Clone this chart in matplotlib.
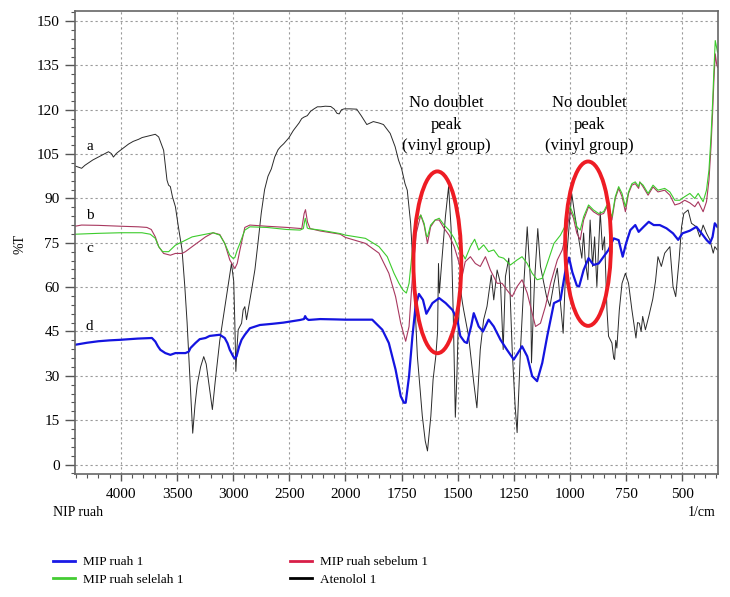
import numpy as np
import matplotlib
matplotlib.use('Agg')
import matplotlib.pyplot as plt
from matplotlib.patches import Ellipse
from matplotlib.lines import Line2D

plt.rcParams['font.family'] = ['Liberation Serif', 'DejaVu Serif']

# Atenolol 1 (curve a)
wn_aten = [4408, 4370, 4349, 4320, 4289, 4250, 4200, 4150, 4110, 4085, 4066, 4040, 4021, 3980,
           3931, 3890, 3842, 3810, 3768, 3730, 3693, 3663, 3640, 3619, 3600, 3589, 3575, 3559,
           3540, 3514, 3490, 3455, 3430, 3410, 3380, 3360, 3340, 3320, 3290, 3262, 3240, 3215,
           3185, 3160, 3119, 3060, 3015, 2995, 2985, 2976, 2965, 2955, 2925, 2911, 2896, 2881,
           2866, 2836, 2806, 2776, 2750, 2720, 2690, 2660, 2630, 2600, 2578, 2550, 2504, 2464,
           2414, 2390, 2370, 2340, 2310, 2280, 2250, 2220, 2180, 2131, 2100, 2076, 2056, 2035,
           2012, 1980, 1950, 1930, 1905, 1876, 1850, 1831, 1801, 1779, 1764, 1750, 1735, 1725,
           1710, 1695, 1680, 1658, 1645, 1635, 1620, 1610, 1598, 1590, 1586, 1582, 1570, 1555,
           1541, 1530, 1520, 1511, 1504, 1499, 1489, 1480, 1474, 1452, 1429, 1415, 1400, 1385,
           1370, 1351, 1340, 1325, 1310, 1298, 1288, 1273, 1258, 1245, 1236, 1221, 1206, 1191,
           1176, 1172, 1159, 1144, 1132, 1117, 1105, 1090, 1072, 1057, 1043, 1031, 1020, 1005,
           993, 978, 963, 948, 940, 933, 921, 911, 900, 891, 881, 866, 856, 847, 836, 829, 814,
           806, 802, 797, 792, 781, 769, 754, 740, 725, 707, 700, 692, 684, 677, 665, 650, 632,
           620, 609, 594, 579, 556, 542, 530, 515, 504, 494, 475, 460, 438, 423, 408, 393, 378,
           363, 356, 345]
t_aten = [101.0, 100.5, 100.2, 101.2, 102.0, 103.0, 104.0, 105.0, 105.8, 105.2, 104.0, 105.2, 105.8, 107.0,
          108.4, 109.3, 110.0, 110.6, 111.0, 111.4, 111.7, 110.8, 108.5, 106.3, 100.0, 96.2, 94.5, 94.0,
          90.5, 87.2, 81.0, 72.6, 60.0, 48.0, 25.4, 10.6, 20.0, 27.0, 33.0, 36.5, 34.0, 27.0,
          18.6, 28.0, 42.0, 56.8, 68.0, 62.0, 47.8, 31.5, 40.0, 45.6, 47.8, 52.3, 53.4, 49.0,
          52.3, 59.0, 66.0, 76.0, 85.0, 93.0, 97.5, 100.0, 104.0, 106.5, 107.5, 108.5, 110.5, 113.0,
          115.5, 117.0, 117.5, 118.0, 119.5, 120.3, 121.0, 121.0, 121.2, 121.1, 120.2, 118.8, 118.6, 120.0,
          120.3, 120.3, 120.2, 118.0, 115.0, 116.0, 115.5, 115.0, 112.0, 107.5, 103.0, 100.0, 95.0, 92.8,
          81.6, 61.3, 36.6, 16.4, 8.0, 4.6, 16.4, 28.8, 36.6, 45.0, 68.0, 58.0, 70.0, 84.0,
          94.0, 80.0, 50.0, 16.0, 30.0, 44.5, 60.0, 55.0, 52.3, 43.4, 27.7, 19.2, 38.9, 49.0,
          53.5, 64.1, 55.7, 65.8, 61.3, 38.9, 63.6, 69.8, 38.9, 20.0, 10.8, 38.9, 61.3, 80.4,
          61.3, 34.4, 61.3, 79.8, 67.0, 61.3, 56.8, 53.5, 61.3, 66.4, 54.6, 44.4, 65.8, 80.0,
          91.7, 83.8, 77.0, 69.8, 78.3, 69.2, 62.5, 82.7, 67.0, 77.0, 60.2, 85.5, 72.6, 77.0, 52.3, 43.4, 41.1,
          36.0, 35.5, 42.0, 39.4, 52.3, 61.3, 64.7, 61.3, 52.3, 42.8, 48.0, 47.8, 45.0, 50.1, 45.6, 50.1, 56.0,
          62.0, 70.3, 67.0, 71.5, 73.7, 60.2, 56.8, 69.2, 80.4, 84.9, 86.1, 81.6, 80.4, 77.0, 81.0, 78.2, 76.0,
          71.5, 73.7, 72.6]

# MIP ruah 1 (curve d)
wn_mip = [4408, 4300, 4200, 4100, 4000, 3850, 3723, 3693, 3670, 3648, 3604, 3559, 3514, 3425, 3395,
          3380, 3336, 3298, 3246, 3209, 3119, 3075, 3050, 3030, 3000, 2985, 2970, 2960, 2946, 2925,
          2896, 2851, 2762, 2650, 2553, 2404, 2370, 2359, 2350, 2329, 2225, 2100, 2000, 1881, 1836,
          1807, 1777, 1754, 1740, 1732, 1717, 1702, 1688, 1673, 1655, 1640, 1613, 1583, 1554, 1524,
          1502, 1489, 1470, 1459, 1440, 1429, 1418, 1407, 1388, 1363, 1340, 1310, 1281, 1251, 1230,
          1214, 1191, 1169, 1147, 1124, 1102, 1072, 1043, 1020, 1005, 990, 970, 960, 940, 918, 896,
          873, 851, 829, 806, 784, 766, 751, 732, 710, 695, 673, 650, 628, 601, 571, 542, 519, 500,
          467, 438, 415, 393, 378, 366, 356, 345]
t_mip = [40.5, 41.2, 41.7, 42.0, 42.2, 42.6, 42.8, 41.6, 40.0, 38.8, 37.7, 37.1, 37.7, 37.7, 38.2,
         39.4, 41.1, 42.4, 42.8, 43.5, 43.9, 42.8, 41.0, 38.8, 36.6, 35.8, 36.6, 38.0, 40.0, 42.2,
         43.9, 46.1, 47.2, 47.6, 48.0, 48.9, 49.2, 50.2, 49.5, 48.9, 49.2, 49.1, 49.0, 49.0, 45.6,
         41.1, 32.1, 23.1, 20.9, 20.9, 29.9, 43.4, 53.5, 57.7, 55.7, 51.0, 54.6, 56.3, 54.6, 52.3,
         49.0, 43.5, 41.5, 41.1, 47.0, 51.2, 49.0, 46.7, 45.0, 49.0, 46.7, 42.2, 38.8, 35.5, 38.0,
         40.0, 36.6, 29.9, 28.2, 34.4, 43.4, 54.6, 55.7, 66.0, 70.0, 65.0, 60.5, 60.2, 65.8, 69.8, 67.5,
         68.0, 70.3, 72.6, 76.5, 75.9, 70.3, 74.8, 79.3, 81.0, 78.7, 80.4, 82.1, 81.0, 81.0, 79.9, 78.2, 76.0, 78.2,
         79.1, 80.4, 78.2, 76.0, 74.8, 77.0, 81.6, 80.4]

# MIP ruah selelah 1 (curve c)
wn_sel = [4408, 4200, 4000, 3812, 3738, 3693, 3663, 3628, 3574, 3514, 3455, 3365, 3246, 3179, 3119,
          3075, 3030, 3000, 2985, 2964, 2940, 2896, 2851, 2702, 2523, 2404, 2375, 2365, 2358, 2350,
          2340, 2329, 2225, 2046, 2000, 1911, 1851, 1814, 1784, 1762, 1744, 1729, 1717, 1702, 1680,
          1665, 1650, 1640, 1635, 1621, 1601, 1583, 1561, 1539, 1516, 1494, 1472, 1467, 1444, 1425,
          1407, 1385, 1363, 1340, 1318, 1296, 1266, 1236, 1214, 1191, 1169, 1147, 1124, 1102, 1072,
          1043, 1020, 1015, 1000, 985, 970, 955, 940, 918, 896, 873, 851, 836, 814, 799, 784, 769,
          754, 740, 725, 710, 695, 690, 675, 653, 631, 609, 579, 556, 534, 512, 490, 467, 445, 430,
          408, 393, 382, 373, 366, 360, 354, 348, 344]
t_sel = [77.9, 78.2, 78.4, 78.4, 77.9, 76.5, 73.7, 72.0, 72.0, 74.2, 75.3, 77.0, 77.9, 78.4, 77.6,
         74.8, 70.8, 69.7, 70.0, 72.5, 74.8, 79.3, 80.4, 80.2, 79.5, 79.3, 79.8, 82.0, 83.3, 82.0,
         80.0, 79.8, 79.3, 78.1, 77.6, 76.5, 73.7, 70.3, 64.7, 61.3, 59.0, 58.0, 61.3, 72.6, 82.7,
         84.4, 81.6, 77.5, 77.0, 81.0, 82.7, 83.3, 81.0, 79.3, 76.5, 72.6, 70.3, 69.5, 73.7, 76.2,
         72.6, 74.3, 72.0, 72.6, 70.3, 69.8, 67.5, 69.2, 70.3, 68.0, 64.7, 62.5, 63.0, 68.0, 74.8,
         77.6, 81.0, 83.8, 87.2, 84.4, 80.4, 79.3, 83.8, 87.8, 86.1, 84.9, 85.5, 87.8, 83.8, 90.6, 94.0, 91.7,
         87.2, 92.2, 95.0, 95.6, 94.0, 95.5, 94.5, 91.7, 94.5, 92.8, 93.4, 92.2, 89.4, 89.4, 90.6, 91.7, 90.0, 91.7,
         88.9, 92.8, 99.6, 110.8, 122.0, 133.3, 143.4, 141.1, 139.5]

# MIP ruah sebelum 1 (curve b)
wn_seb = [4408, 4350, 4200, 4000, 3842, 3768, 3729, 3693, 3663, 3619, 3559, 3514, 3455, 3425, 3365,
          3246, 3179, 3119, 3075, 3030, 2985, 2964, 2940, 2896, 2851, 2702, 2523, 2389, 2368, 2356,
          2338, 2315, 2225, 2046, 2000, 1911, 1851, 1807, 1777, 1754, 1732, 1717, 1702, 1685, 1665,
          1650, 1635, 1621, 1601, 1583, 1561, 1539, 1516, 1494, 1480, 1467, 1444, 1422, 1400, 1377,
          1355, 1325, 1303, 1281, 1258, 1236, 1214, 1191, 1169, 1154, 1132, 1110, 1087, 1057, 1035,
          1015, 1000, 985, 970, 955, 940, 918, 896, 873, 851, 836, 814, 799, 784, 769, 754, 740, 725,
          710, 695, 690, 675, 653, 631, 609, 579, 556, 534, 512, 490, 467, 445, 430, 408, 393, 382,
          373, 366, 360, 354, 348, 344]
t_seb = [80.6, 81.0, 80.9, 80.6, 80.4, 80.2, 79.5, 77.0, 73.7, 71.4, 70.8, 71.4, 71.4, 72.0, 73.7,
         77.0, 78.4, 77.8, 74.8, 69.2, 66.3, 68.0, 72.5, 80.2, 81.0, 80.6, 80.2, 79.8, 84.9, 86.2,
         82.0, 79.8, 79.0, 77.9, 76.8, 74.8, 71.5, 64.7, 56.8, 47.8, 41.7, 46.7, 63.6, 78.2, 84.4,
         81.0, 74.8, 80.4, 82.7, 82.7, 79.9, 77.6, 73.7, 68.1, 64.0, 68.6, 70.3, 68.0, 67.0, 70.3,
         65.8, 61.3, 61.3, 59.0, 56.8, 60.2, 62.5, 58.0, 51.2, 46.7, 47.8, 53.5, 61.3, 69.2, 72.6,
         79.0, 86.1, 83.3, 78.2, 76.0, 82.7, 87.2, 85.5, 84.4, 84.9, 87.2, 82.7, 90.0, 93.4, 90.6, 85.5, 91.7, 94.5,
         95.0, 93.4, 95.6, 93.9, 91.1, 93.9, 92.2, 92.8, 91.1, 87.8, 88.3, 89.4, 88.5, 87.2, 88.9, 85.5, 88.9, 96.2,
         107.4, 118.7, 129.9, 138.9, 135.5, 134.4]

x_major = [4000, 3500, 3000, 2500, 2000, 1750, 1500, 1250, 1000, 750, 500]
y_major = list(range(0, 151, 15))

# red ellipses and notes (centre wn, centre %T, width, height)
rings = [(1591, 68.4, 213, 61.5), (920, 74.7, 204, 55.6)]
notes = [(1551, 114.9), (913, 114.9)]
note_text = 'No doublet\npeak\n(vinyl group)'
curve_tags = [('a', 107.5), ('b', 84.2), ('c', 73.2), ('d', 46.6)]


# wavenumber axis is compressed 2x above 2000 1/cm
def fwd(x):
    x = np.asarray(x, dtype=float)
    return np.where(x > 2000, 2000 + (x - 2000) / 2, x)


def inv(u):
    u = np.asarray(u, dtype=float)
    return np.where(u > 2000, 2000 + (u - 2000) * 2, u)


fig = plt.figure(figsize=(7.3, 5.97), dpi=100)
ax = fig.add_axes([75 / 730, 1 - 474 / 597, (717.5 - 75) / 730, (474 - 11) / 597])
ax.set_xscale('function', functions=(fwd, inv))
ax.set_xlim(4408, 344)
ax.set_ylim(-3.2, 153.4)

c_aten, c_seb, c_sel, c_mip = '#2a2a2a', '#a8385f', '#3ccc2c', '#1414e0'
ax.plot(wn_aten, t_aten, color=c_aten, lw=0.7)
ax.plot(wn_seb, t_seb, color=c_seb, lw=0.8)
ax.plot(wn_sel, t_sel, color=c_sel, lw=0.8)
ax.plot(wn_mip, t_mip, color=c_mip, lw=1.6)

for (cx, cy, w, h) in rings:
    ax.add_patch(Ellipse((cx, cy), w, h, fill=False, ec='#ee1c24', lw=2.8, zorder=5))
for (nx, ny) in notes:
    ax.text(nx, ny, note_text, ha='center', va='center', fontsize=12, linespacing=1.45)
for tag, ty in curve_tags:
    ax.text(4280, ty, tag, ha='center', va='center', fontsize=11)

ax.set_xticks(x_major)
ax.set_xticklabels([str(v) for v in x_major])
ax.set_xticks(list(range(4400, 2000, -100)) + list(range(2000, 340, -50)), minor=True)
ax.set_yticks(y_major)
ax.set_yticks(list(range(-3, 154, 3)), minor=True)
ax.grid(True, which='major', color='#9a9a9a', lw=0.8, linestyle=(0, (2, 2.5)))

ax.tick_params(axis='both', which='both', direction='out', color='#555555', labelsize=11)
ax.tick_params(axis='y', which='major', length=7, width=1, pad=4)
ax.tick_params(axis='y', which='minor', length=2.8, width=0.8)
ax.tick_params(axis='x', which='major', length=5, width=1, pad=5)
ax.tick_params(axis='x', which='minor', length=2.8, width=0.8)
for s in ax.spines.values():
    s.set_color('#666666')
    s.set_linewidth(1.2)

fig.text(20 / 730, 1 - 244 / 597, '%T', rotation=90, ha='center', va='center', fontsize=10)
fig.text(53 / 730, 1 - 513 / 597, 'NIP ruah', ha='left', va='center', fontsize=10)
fig.text(715 / 730, 1 - 513 / 597, '1/cm', ha='right', va='center', fontsize=10)

h1 = [Line2D([], [], color='#1a1ae6', lw=2), Line2D([], [], color='#44cc33', lw=2)]
h2 = [Line2D([], [], color='#d81e48', lw=2), Line2D([], [], color='black', lw=2)]
leg_kw = dict(loc='upper left', frameon=False, fontsize=9.5, handlelength=1.7,
              handletextpad=0.6, labelspacing=0.4, borderpad=0, borderaxespad=0)
fig.legend(h1, ['MIP ruah 1', 'MIP ruah selelah 1'],
           bbox_to_anchor=(53 / 730, 1 - 556 / 597), **leg_kw)
fig.legend(h2, ['MIP ruah sebelum 1', 'Atenolol 1'],
           bbox_to_anchor=(290 / 730, 1 - 556 / 597), **leg_kw)

fig.savefig('out.png', dpi=100)
